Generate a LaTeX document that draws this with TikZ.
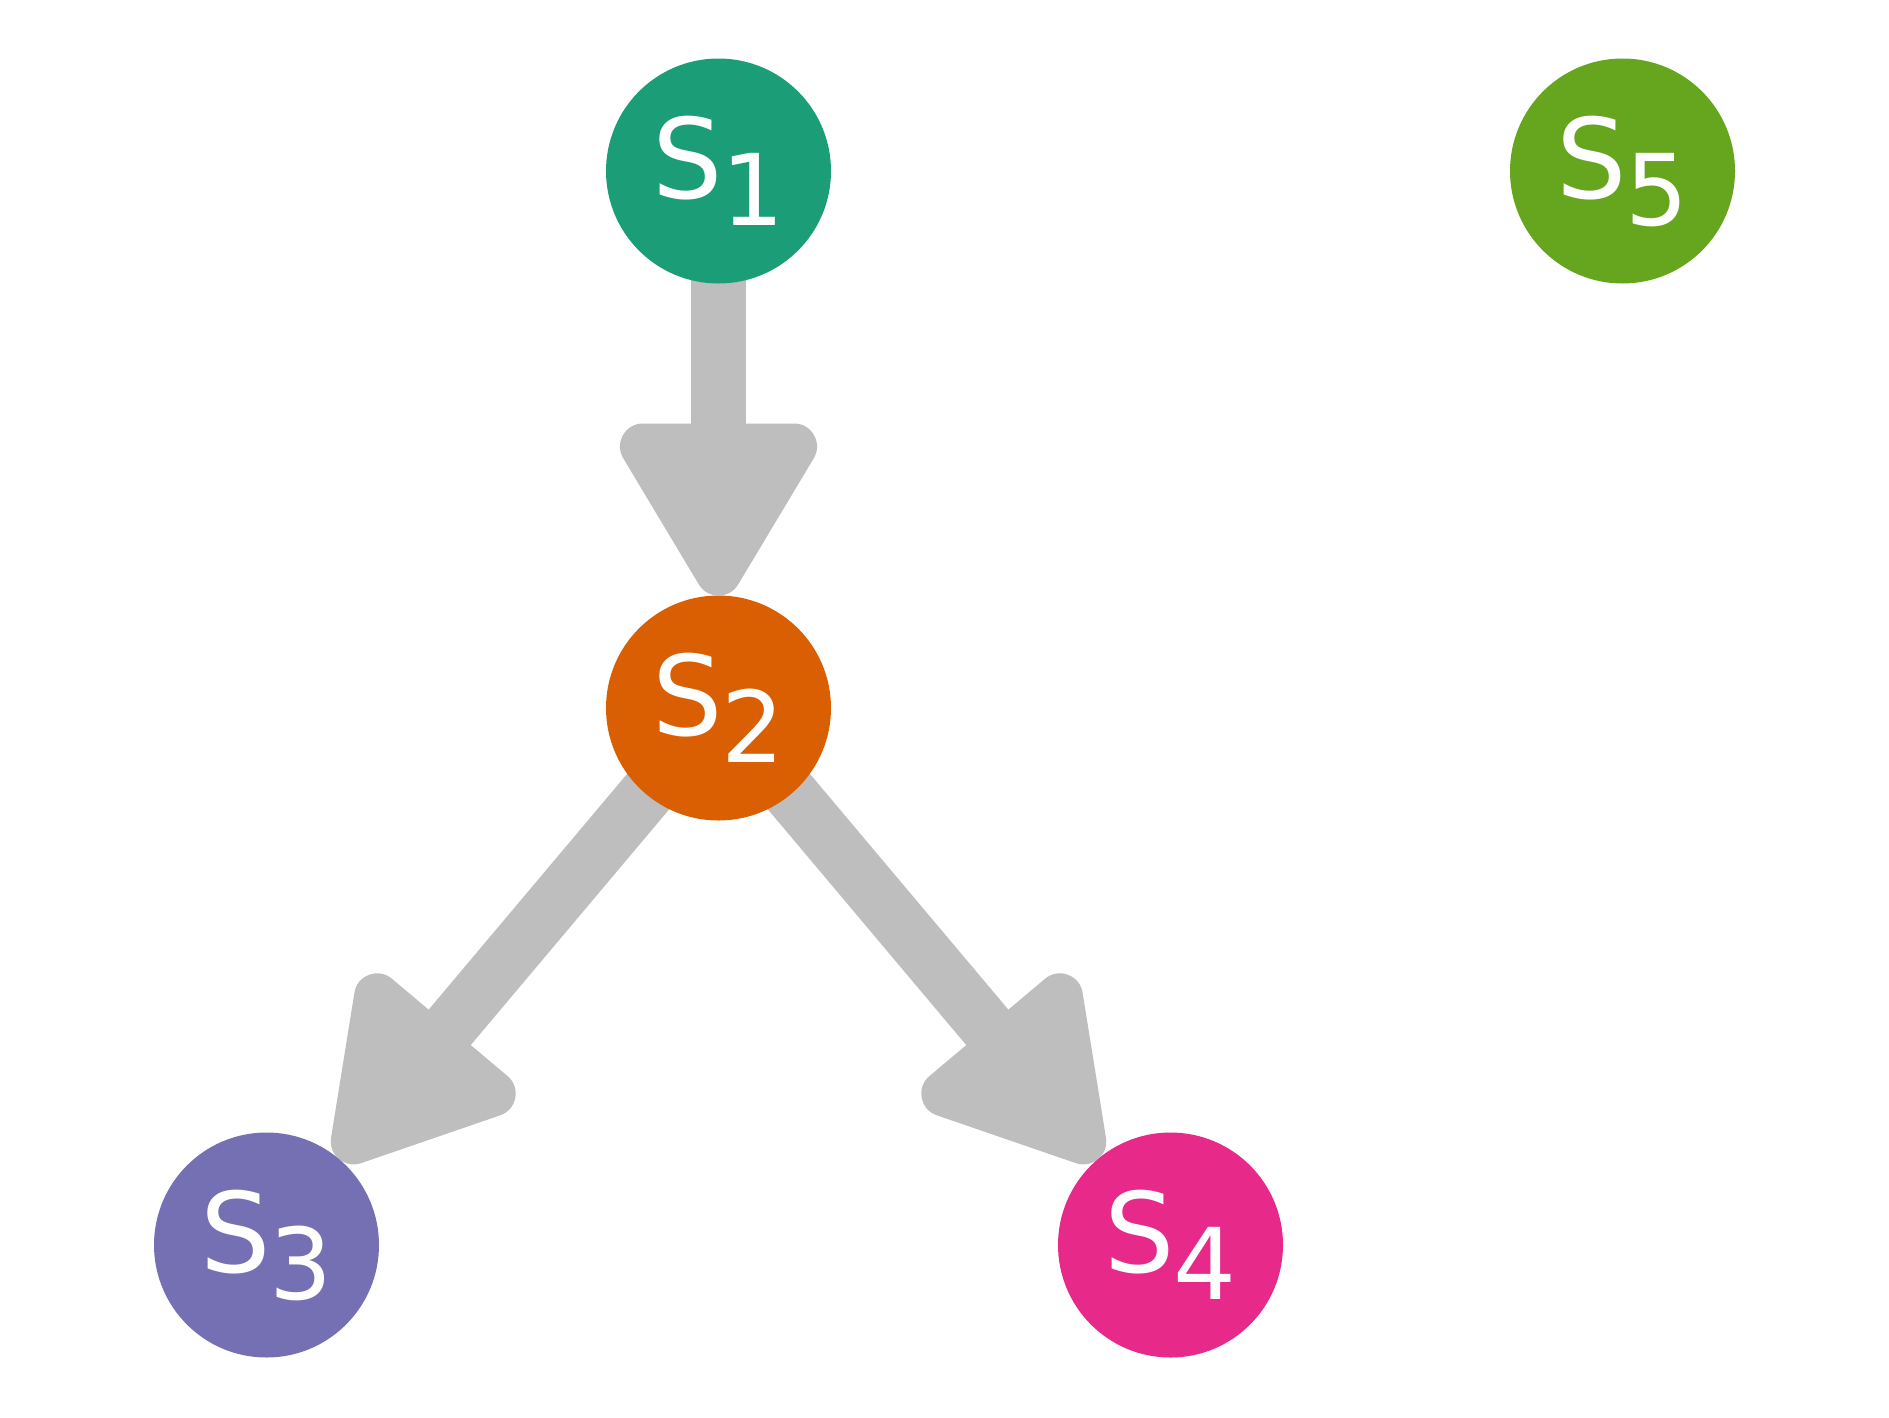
\documentclass[tikz,border=0pt]{standalone}
\usepackage{fontspec}
\setmainfont{DejaVu Sans}
\usetikzlibrary{calc,backgrounds}
\definecolor{cA}{HTML}{1B9E77}
\definecolor{cB}{HTML}{D95F02}
\definecolor{cC}{HTML}{7570B3}
\definecolor{cD}{HTML}{E7298A}
\definecolor{cE}{HTML}{66A61E}
\definecolor{edgegray}{RGB}{190,190,190}
\newcommand{\grarrow}[2]{%
  \coordinate (T#1#2) at ($(#2.center)!135.5pt!(#1.center)$);
  \coordinate (B#1#2) at ($(#2.center)!261.5pt!(#1.center)$);
  \draw[edgeshaft] (#1.center) -- (B#1#2);
  \filldraw[edgehead] (T#1#2) -- ($(B#1#2)!75.5pt!90:(T#1#2)$) -- ($(B#1#2)!75.5pt!-90:(T#1#2)$) -- cycle;
}
\newcommand{\slabel}[1]{{\fontsize{111}{111}\selectfont S}\kern-1pt\raisebox{-26.6pt}{\fontsize{99}{99}\selectfont #1}}
\begin{document}
\begin{tikzpicture}[x=1pt,y=-1pt,
  state/.style={circle,minimum size=225pt,inner sep=0pt,draw=none},
  lbl/.style={text=white,anchor=base west,inner sep=0pt},
  edgeshaft/.style={draw=edgegray,line width=55pt,line cap=butt},
  edgehead/.style={draw=edgegray,fill=edgegray,line width=46pt,line join=round}]
\useasboundingbox (0,0) rectangle (1889,1417);
\node[state,fill=cA] (s1) at (718.5,171) {};
\node[state,fill=cB] (s2) at (718.5,708) {};
\node[state,fill=cC] (s3) at (266.5,1245) {};
\node[state,fill=cD] (s4) at (1170.5,1245) {};
\node[state,fill=cE] (s5) at (1622.5,171) {};
\foreach \n in {1,2,3,4,5}{
  \node[lbl] (l\n) at ($(s\n.center)+(-66.6,27.4)$) {\slabel{\n}};
}
\begin{scope}[on background layer]
\grarrow{s1}{s2}
\grarrow{s2}{s3}
\grarrow{s2}{s4}
\end{scope}
\end{tikzpicture}
\end{document}
